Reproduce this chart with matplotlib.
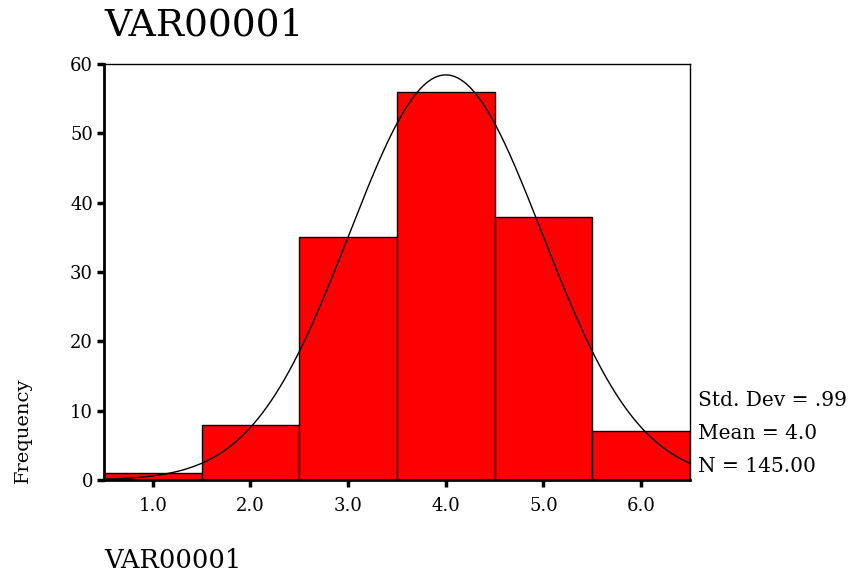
import numpy as np
import matplotlib
matplotlib.use("Agg")
import matplotlib.pyplot as plt

plt.rcParams['font.family'] = ['DejaVu Serif']

bin_centers = [1.0, 2.0, 3.0, 4.0, 5.0, 6.0]
frequencies = [1, 8, 35, 56, 38, 7]
tick_labels = ["1.0", "2.0", "3.0", "4.0", "5.0", "6.0"]
mean_val = 4.0
std_val = 0.99
n_val = 145
title_text = "VAR00001"
xlabel_text = "VAR00001"
ylabel_text = "Frequency"
stats_lines = ["Std. Dev = .99", "Mean = 4.0", "N = 145.00"]

fig = plt.figure(figsize=(8.53, 5.78), dpi=100)
ax = fig.add_axes([104/853, 1-480/578, (690-104)/853, (480-64)/578])

ax.bar(bin_centers, frequencies, width=1.0, color='#ff0000', edgecolor='black', linewidth=1.0, zorder=2)

xs = np.linspace(0.5, 6.5, 400)
bw = 1.0
ys = n_val * bw / (std_val * np.sqrt(2*np.pi)) * np.exp(-0.5*((xs-mean_val)/std_val)**2)
ax.plot(xs, ys, color='black', linewidth=1.0, zorder=3)

ax.set_xlim(0.5, 6.5)
ax.set_ylim(0, 60)
ax.set_xticks(bin_centers)
ax.set_xticklabels(tick_labels)
ax.set_yticks([0, 10, 20, 30, 40, 50, 60])
ax.tick_params(axis='both', direction='out', length=5, width=2.5, labelsize=13, color='black')
ax.tick_params(axis='x', pad=7)
ax.tick_params(axis='y', pad=3)

for s in ['top', 'right']:
    ax.spines[s].set_linewidth(1.0)
for s in ['left', 'bottom']:
    ax.spines[s].set_linewidth(2.0)

fig.text(104/853, 1-25/578, title_text, fontsize=27, ha='left', va='center')
fig.text(104/853, 1-560/578, xlabel_text, fontsize=18.5, ha='left', va='center')
fig.text(23/853, 1-430/578, ylabel_text, fontsize=14, rotation=90, ha='center', va='center')

for i, line in enumerate(stats_lines):
    fig.text(698/853, 1-(401 + 32.5*i)/578, line, fontsize=14.5, ha='left', va='center')

fig.savefig("out.png", dpi=100)
